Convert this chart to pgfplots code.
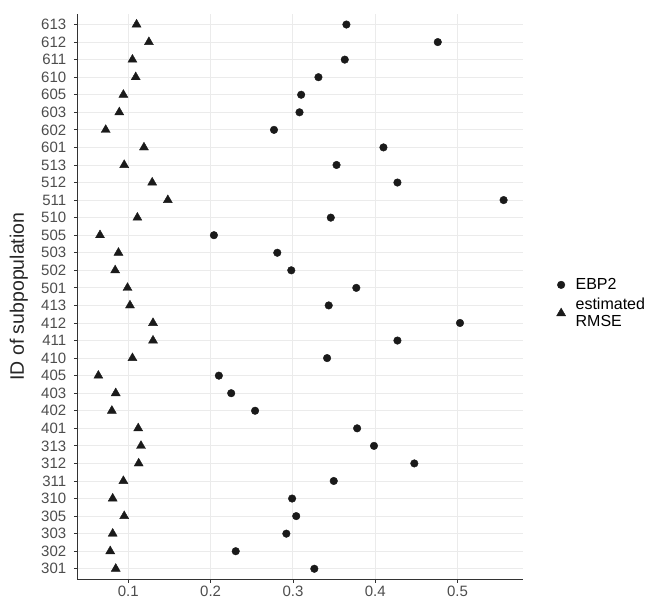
\documentclass[border=0pt]{standalone}
\usepackage{fontspec}
\setmainfont{Liberation Sans}
\usepackage{pgfplots}
\pgfplotsset{compat=1.18}
\definecolor{gridc}{RGB}{235,235,235}
\definecolor{tickc}{RGB}{77,77,77}
\definecolor{axc}{RGB}{51,51,51}
\definecolor{markc}{RGB}{26,26,26}
\pgfplotstableread{
idx ebp rmse
0  0.326  0.0847
1  0.2305 0.078
2  0.292  0.081
3  0.304  0.095
4  0.299  0.081
5  0.3496 0.094
6  0.4475 0.1126
7  0.3985 0.1154
8  0.378  0.112
9  0.254  0.080
10 0.225  0.0847
11 0.210  0.0636
12 0.3415 0.105
13 0.427  0.130
14 0.503  0.130
15 0.3435 0.102
16 0.377  0.099
17 0.298  0.084
18 0.281  0.088
19 0.204  0.0656
20 0.346  0.111
21 0.556  0.148
22 0.427  0.129
23 0.353  0.095
24 0.410  0.119
25 0.277  0.0725
26 0.308  0.089
27 0.310  0.094
28 0.331  0.109
29 0.363  0.105
30 0.476  0.125
31 0.365  0.110
}\datatable
\begin{document}
\begin{tikzpicture}[x=1pt,y=1pt]
\useasboundingbox (0,0) rectangle (652,601);
\begin{axis}[
  at={(77.3pt,21.7pt)}, anchor=south west,
  scale only axis, width=445.4pt, height=565.3pt,
  xmin=0.038, xmax=0.5792, ymin=-0.6, ymax=31.6,
  xtick={0.1,0.2,0.3,0.4,0.5},
  xticklabels={0.1,0.2,0.3,0.4,0.5},
  ytick={0,...,31},
  yticklabels={301,302,303,305,310,311,312,313,401,402,403,405,410,411,412,413,501,502,503,505,510,511,512,513,601,602,603,605,610,611,612,613},
  axis x line*=bottom, axis y line*=left,
  axis line style={axc, line width=0.9pt},
  grid=major, grid style={gridc, line width=0.9pt},
  tick align=outside, major tick length=3.5pt,
  tick style={axc, line width=0.8pt},
  ticklabel style={font=\fontsize{15}{15}\selectfont, text=tickc},
  xticklabel style={inner ysep=0pt, yshift=-3pt},
  yticklabel style={xshift=-4pt},
  /pgf/number format/assume math mode=true,
  every axis y label/.style={at={(axis description cs:-0.131,0.5)}, rotate=90, anchor=center},
  ylabel={ID of subpopulation},
  ylabel style={font=\fontsize{19.5}{20}\selectfont, text=black!85},
  legend style={at={(1.069,0.488)}, anchor=west, draw=none, fill=none,
    font=\fontsize{16}{17}\selectfont, row sep=3pt,
    /tikz/every odd column/.append style={column sep=8pt}},
  legend cell align=left,
  legend style={cells={align=left}},
]
\addplot[only marks, mark=*, mark size=3.8pt, color=markc] table[x=ebp, y=idx] {\datatable};
\addlegendentry{EBP2}
\addplot[only marks, mark=triangle*, mark size=5.2pt, color=markc] table[x=rmse, y=idx] {\datatable};
\addlegendentry{estimated\\ RMSE}
\end{axis}
\end{tikzpicture}
\end{document}
